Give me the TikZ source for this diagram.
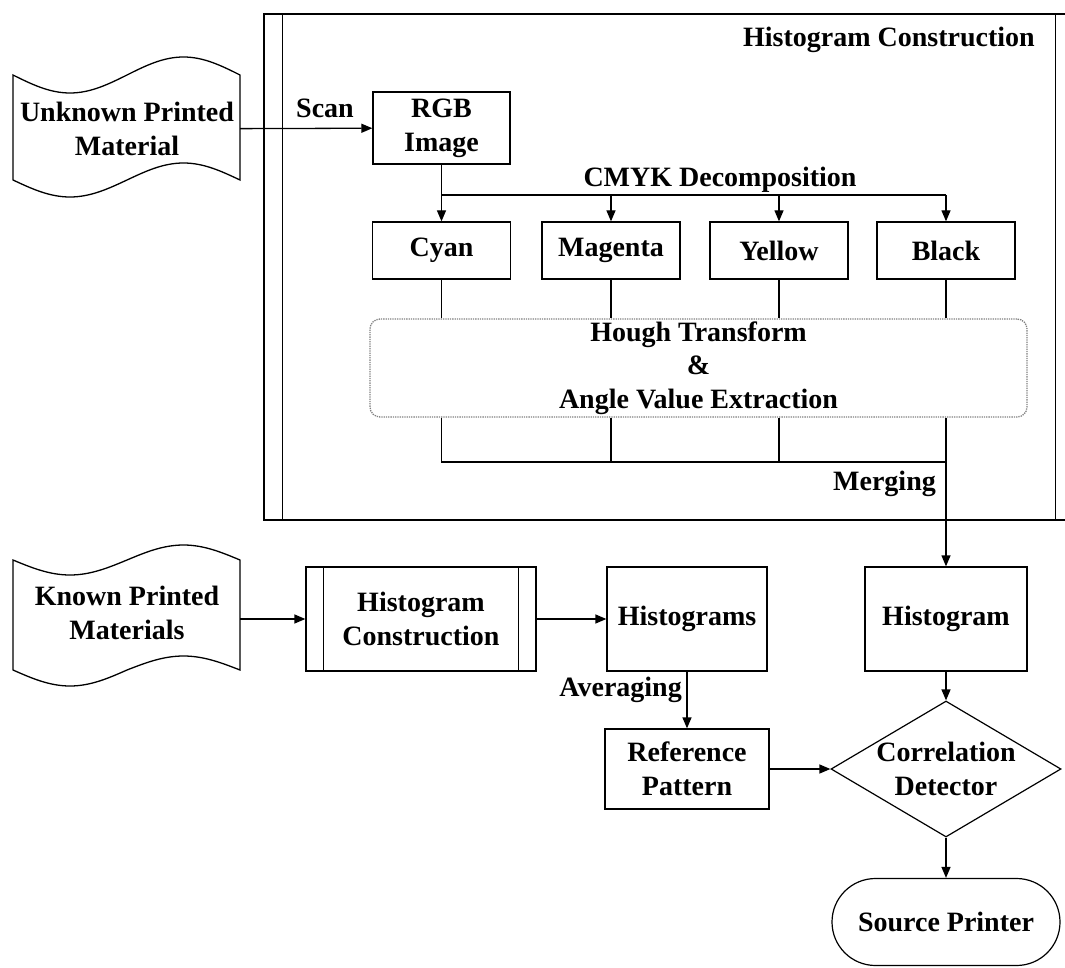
\documentclass[tikz,border=0pt]{standalone}
\usepackage{fontspec}
\setmainfont{Liberation Serif}
\usetikzlibrary{arrows.meta,shapes.geometric,shapes.misc}
\begin{document}
\begin{tikzpicture}[x=1pt,y=-1pt,
  font=\fontsize{28}{34}\selectfont\bfseries,
  link/.style={line width=1.3pt},
  flow/.style={link, -{Triangle[length=11pt,width=9pt]}},
  box/.style={draw, link, minimum width=138pt, align=center, inner sep=0pt},
  lbl/.style={inner sep=0pt, align=center},
]
\useasboundingbox (0,0) rectangle (1065,968);

% outer predefined-process frame (runs past the right edge)
\node[draw, link, minimum width=816pt, minimum height=506pt, inner sep=0pt] (frame) at (672,267) {};
\draw[link] ([xshift=19pt]frame.north west) -- ([xshift=19pt]frame.south west);
\draw[link] ([xshift=-25pt]frame.north east) -- ([xshift=-25pt]frame.south east);
\node[lbl, anchor=base east] (title) at (1035,47) {Histogram Construction};

% input documents
\node[lbl, minimum width=226pt, minimum height=105pt] (unk) at (127,129) {Unknown Printed\\Material};
\draw[link] (13,75) sin (70,93) cos (127,75) sin (183.5,57) cos (240,75)
  -- (240,180) sin (183.5,163) cos (127,180) sin (70,197) cos (13,180) -- cycle;

\node[lbl, minimum width=226pt, minimum height=105pt] (known) at (127,613) {Known Printed\\Materials};
\draw[link] (13,560) sin (70,575) cos (127,560) sin (183.5,545) cos (240,560)
  -- (240,670) sin (183.5,656) cos (127,670) sin (70,686) cos (13,670) -- cycle;

% scan and decomposition
\node[box, minimum width=137pt, minimum height=72pt] (rgb) at (441.5,128) {RGB\\Image};
\node[box, minimum height=57pt] (cyan) at (441.5,250.5) {Cyan};
\node[box, minimum height=57pt] (magenta) at (611,250.5) {Magenta};
\node[box, minimum height=57pt] (yellow) at (779,250.5) {Yellow};
\node[box, minimum height=57pt] (black) at (946,250.5) {Black};

\node[lbl, anchor=base east] (scan) at (354,118) {Scan};
\draw[flow] (unk) -- (rgb);

\coordinate (split) at (0,195);
\node[lbl, anchor=base] (cmyk) at (720,187) {CMYK Decomposition};
\draw[link] (rgb) -- (rgb |- split) -- (black |- split);
\draw[flow] (rgb |- split) -- (cyan);
\draw[flow] (magenta |- split) -- (magenta);
\draw[flow] (yellow |- split) -- (yellow);
\draw[flow] (black |- split) -- (black);

% Hough transform stage
\node[draw=gray, densely dotted, line width=1.3pt, rounded corners=10pt,
  minimum width=657pt, minimum height=98pt, align=center, inner sep=0pt,
  font=\fontsize{28}{33.5}\selectfont\bfseries] (hough) at (698.5,368)
  {Hough Transform\\\&\\Angle Value Extraction};
\foreach \c in {cyan,magenta,yellow,black}
  \draw[link] (\c) -- (\c |- hough.north);

\coordinate (merge) at (0,462);
\draw[link] (cyan |- hough.south) -- (cyan |- merge) -- (black |- merge);
\draw[link] (magenta |- hough.south) -- (magenta |- merge);
\draw[link] (yellow |- hough.south) -- (yellow |- merge);
\node[lbl, anchor=base east] (merging) at (936,490) {Merging};

% histograms
\node[box, minimum width=230pt, minimum height=104pt] (hc) at (421,619) {Histogram\\Construction};
\draw[link] ([xshift=18pt]hc.north west) -- ([xshift=18pt]hc.south west);
\draw[link] ([xshift=-18pt]hc.north east) -- ([xshift=-18pt]hc.south east);
\node[box, minimum width=160pt, minimum height=104pt] (hists) at (687,619) {Histograms};
\node[box, minimum width=162pt, minimum height=104pt] (hist) at (946,619) {Histogram};

\draw[flow] (known.east |- hc.west) -- (hc.west);
\draw[flow] (hc) -- (hists);
\draw[flow] (black |- hough.south) -- (hist);

% comparison
\node[box, minimum width=164pt, minimum height=80pt] (ref) at (687,769) {Reference\\Pattern};
\node[lbl, anchor=base east] (avg) at (682,696) {Averaging};
\draw[flow] (hists) -- (ref);

\node[diamond, draw, line width=1.2pt, minimum width=230pt, minimum height=136pt, inner sep=0pt] (cd) at (946,769) {};
\node[lbl] (cdtext) at (cd) {Correlation\\Detector};
\draw[flow] (ref) -- (cd);
\draw[flow] (hist) -- (cd);

\node[rounded rectangle, draw, line width=1.2pt, minimum width=228pt, minimum height=87pt, inner sep=0pt] (src) at (946,922) {Source Printer};
\draw[flow] (cd) -- (src);
\end{tikzpicture}
\end{document}
